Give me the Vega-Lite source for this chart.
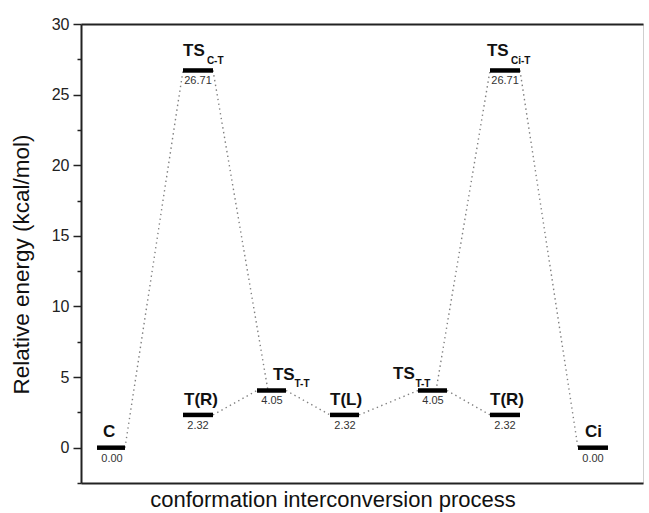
{
  "$schema": "https://vega.github.io/schema/vega-lite/v6.json",
  "width": 562,
  "height": 459,
  "autosize": {"type": "none"},
  "padding": {"left": 81, "top": 24, "right": 6, "bottom": 30},
  "background": "white",
  "config": {
    "view": {"stroke": "#cfcfcf", "strokeWidth": 1},
    "font": "Liberation Sans"
  },
  "datasets": {
    "levels": [
      {"name": "C", "x1": 2.85, "x2": 7.83, "E": 0.0},
      {"name": "TS C-T", "x1": 18.15, "x2": 23.49, "E": 26.71},
      {"name": "T(R)", "x1": 18.15, "x2": 23.49, "E": 2.32},
      {"name": "TS T-T", "x1": 31.32, "x2": 36.48, "E": 4.05},
      {"name": "T(L)", "x1": 44.31, "x2": 49.47, "E": 2.32},
      {"name": "TS T-T", "x1": 59.96, "x2": 65.12, "E": 4.05},
      {"name": "T(R)", "x1": 72.78, "x2": 78.11, "E": 2.32},
      {"name": "TS Ci-T", "x1": 72.78, "x2": 78.11, "E": 26.71},
      {"name": "Ci", "x1": 88.43, "x2": 93.77, "E": 0.0}
    ],
    "segs": [
      {"xa": 7.83, "ya": 0.0, "xb": 18.15, "yb": 26.71},
      {"xa": 23.49, "ya": 26.71, "xb": 33.27, "yb": 4.05},
      {"xa": 23.49, "ya": 2.32, "xb": 31.32, "yb": 4.05},
      {"xa": 36.48, "ya": 4.05, "xb": 44.31, "yb": 2.32},
      {"xa": 49.47, "ya": 2.32, "xb": 59.96, "yb": 4.05},
      {"xa": 65.12, "ya": 4.05, "xb": 72.78, "yb": 2.32},
      {"xa": 63.17, "ya": 4.05, "xb": 72.78, "yb": 26.71},
      {"xa": 78.11, "ya": 26.71, "xb": 88.43, "yb": 0.0}
    ],
    "mainLabels": [
      {"t": "C", "lx": 3.91, "ly": 0.78},
      {"t": "T(R)", "lx": 18.33, "ly": 3.04},
      {"t": "TS", "lx": 18.15, "ly": 27.74},
      {"t": "TS", "lx": 34.16, "ly": 4.81},
      {"t": "T(L)", "lx": 44.31, "ly": 3.04},
      {"t": "TS", "lx": 55.52, "ly": 4.88},
      {"t": "T(R)", "lx": 72.78, "ly": 3.04},
      {"t": "TS", "lx": 72.24, "ly": 27.74},
      {"t": "Ci", "lx": 89.68, "ly": 0.78}
    ],
    "subLabels": [
      {"t": "C-T", "lx": 22.4, "ly": 27.17},
      {"t": "T-T", "lx": 38.0, "ly": 4.32},
      {"t": "T-T", "lx": 59.5, "ly": 4.32},
      {"t": "Ci-T", "lx": 76.5, "ly": 27.17}
    ]
  },
  "resolve": {"axis": {"x": "independent", "y": "independent"}},
  "layer": [
    {
      "data": {"name": "segs"},
      "mark": {"type": "rule", "color": "#808080", "strokeWidth": 1.4, "strokeDash": [1.4, 3.4]},
      "encoding": {
        "x": {
          "field": "xa", "type": "quantitative",
          "scale": {"domain": [0, 100], "nice": false, "zero": false},
          "axis": {
            "orient": "bottom", "labels": false, "ticks": false, "grid": false,
            "domainColor": "#222", "domainWidth": 2,
            "title": "conformation interconversion process",
            "titleFont": "Liberation Sans", "titleFontSize": 22, "titleFontWeight": "normal",
            "titleColor": "#111", "titleBaseline": "alphabetic", "titleX": 251.5, "titleY": 23
          }
        },
        "x2": {"field": "xb"},
        "y": {
          "field": "ya", "type": "quantitative",
          "scale": {"domain": [-2.5, 30], "nice": false, "zero": false},
          "axis": {
            "orient": "left",
            "values": [0, 5, 10, 15, 20, 25, 30],
            "grid": false,
            "domainColor": "#222", "domainWidth": 2,
            "tickColor": "#222", "tickWidth": 1.5, "tickSize": 8,
            "labelFont": "Liberation Sans", "labelFontSize": 16, "labelColor": "#222",
            "labelPadding": 4,
            "title": "Relative energy (kcal/mol)",
            "titleFont": "Liberation Sans", "titleFontSize": 22.5, "titleFontWeight": "normal",
            "titleColor": "#111", "titleBaseline": "alphabetic", "titleX": -53, "titleY": 240
          }
        },
        "y2": {"field": "yb"}
      }
    },
    {
      "data": {"name": "levels"},
      "mark": {"type": "rule", "color": "#000", "strokeWidth": 4.5},
      "encoding": {
        "x": {
          "field": "x1", "type": "quantitative",
          "axis": {"orient": "top", "labels": false, "ticks": false, "grid": false, "title": null, "domainColor": "#222", "domainWidth": 2}
        },
        "x2": {"field": "x2"},
        "y": {
          "field": "E", "type": "quantitative",
          "axis": {
            "orient": "left",
            "values": [-2.5, 2.5, 7.5, 12.5, 17.5, 22.5, 27.5],
            "labels": false, "domain": false, "grid": false, "title": null,
            "tickColor": "#222", "tickWidth": 1.5, "tickSize": 4
          }
        }
      }
    },
    {
      "data": {"name": "levels"},
      "mark": {"type": "text", "align": "center", "baseline": "alphabetic", "dx": 15, "dy": 14, "fontSize": 11, "color": "#333", "font": "Liberation Sans"},
      "encoding": {
        "x": {"field": "x1", "type": "quantitative", "axis": null},
        "y": {"field": "E", "type": "quantitative", "axis": null},
        "text": {"field": "E", "type": "quantitative", "format": ".2f"}
      }
    },
    {
      "data": {"name": "mainLabels"},
      "mark": {"type": "text", "align": "left", "baseline": "alphabetic", "fontSize": 17, "fontWeight": "bold", "color": "#111", "font": "Liberation Sans"},
      "encoding": {
        "x": {"field": "lx", "type": "quantitative", "axis": null},
        "y": {"field": "ly", "type": "quantitative", "axis": null},
        "text": {"field": "t"}
      }
    },
    {
      "data": {"name": "subLabels"},
      "mark": {"type": "text", "align": "left", "baseline": "alphabetic", "fontSize": 10, "fontWeight": "bold", "color": "#111", "font": "Liberation Sans"},
      "encoding": {
        "x": {"field": "lx", "type": "quantitative", "axis": null},
        "y": {"field": "ly", "type": "quantitative", "axis": null},
        "text": {"field": "t"}
      }
    }
  ]
}
